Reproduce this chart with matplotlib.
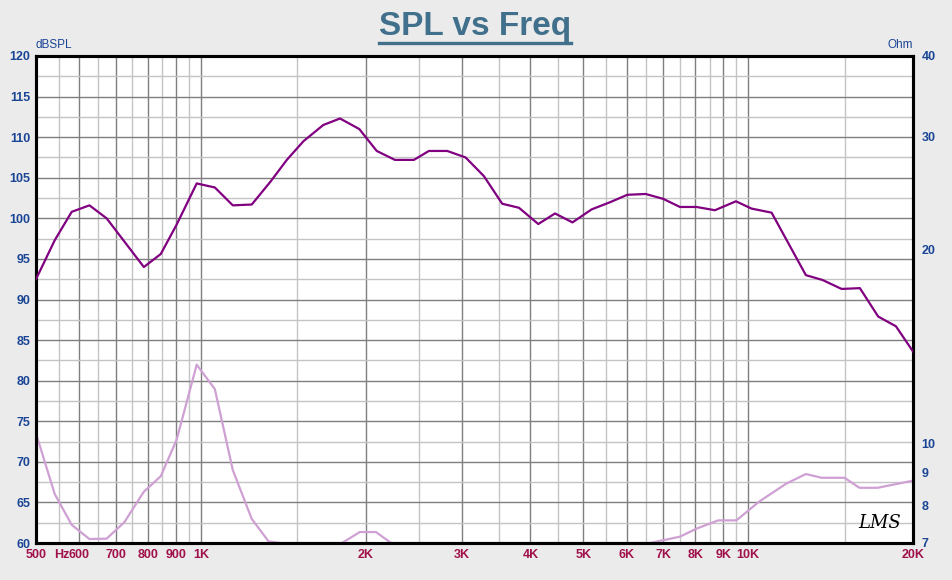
import matplotlib
matplotlib.use("Agg")
import matplotlib.pyplot as plt
from matplotlib.ticker import FixedLocator, NullFormatter, FixedFormatter
from matplotlib.lines import Line2D

# ---- data ----
spl_freq = [500, 541, 581, 626, 673, 787, 845, 903, 983, 1061, 1144, 1239, 1340, 1436,
            1540, 1674, 1796, 1948, 2096, 2263, 2451, 2610, 2820, 3046, 3290, 3553,
            3813, 4135, 4437, 4775, 5175, 5600, 6012, 6496, 6994, 7504, 8048, 8694,
            9497, 10141, 11034, 11671, 12745, 13676, 14812, 15996, 17276, 18614, 20000]
spl_db = [92.5, 97.3, 100.8, 101.6, 100.0, 94.0, 95.6, 99.2, 104.3, 103.8, 101.6, 101.7,
          104.5, 107.2, 109.5, 111.5, 112.3, 111.0, 108.3, 107.2, 107.2, 108.3, 108.3,
          107.5, 105.2, 101.8, 101.3, 99.3, 100.6, 99.5, 101.1, 102.0, 102.9, 103.0,
          102.4, 101.4, 101.4, 101.0, 102.1, 101.2, 100.7, 97.7, 93.0, 92.4, 91.3, 91.4,
          87.9, 86.7, 83.6]

imp_freq = [500, 541, 581, 626, 673, 725, 787, 845, 903, 983, 1061, 1144, 1239, 1330,
            1400, 1811, 1952, 2089, 2227, 6609, 7504, 8048, 8814, 9515, 10475, 11743,
            12745, 13622, 15000, 15960, 17245, 20000]
imp_ohm = [10.36, 8.34, 7.47, 7.10, 7.11, 7.54, 8.41, 8.89, 10.12, 13.25, 12.14, 9.09,
           7.63, 7.04, 7.0, 7.0, 7.28, 7.28, 7.0, 7.0, 7.16, 7.37, 7.59, 7.59, 8.12,
           8.66, 8.96, 8.84, 8.84, 8.53, 8.53, 8.75]

x_major = [500, 600, 700, 800, 900, 1000, 2000, 3000, 4000, 5000, 6000, 7000, 8000,
           9000, 10000, 20000]
x_labels = ["500", "600", "700", "800", "900", "1K", "2K", "3K", "4K", "5K", "6K", "7K",
            "8K", "9K", "10K", "20K"]
x_minor = [550, 650, 750, 850, 950, 1500, 2500, 3500, 4500, 5500, 6500, 7500, 8500,
           9500, 15000]
y_left_major = [60, 65, 70, 75, 80, 85, 90, 95, 100, 105, 110, 115, 120]
y_left_minor = [62.5, 67.5, 72.5, 77.5, 82.5, 87.5, 92.5, 97.5, 102.5, 107.5, 112.5, 117.5]
y_right_ticks = [7, 8, 9, 10, 20, 30, 40]

plt.rcParams['font.family'] = ['Liberation Sans', 'DejaVu Sans']

BG = '#ebebeb'
TICK_BLUE = '#1a4595'
TICK_RED = '#a0104a'
fig = plt.figure(figsize=(9.52, 5.80), dpi=100, facecolor=BG)
W, H = 952, 580
L, R, T, B = 36, 913, 56, 543
ax = fig.add_axes([L / W, (H - B) / H, (R - L) / W, (B - T) / H])
ax.set_facecolor('white')
ax.set_xscale('log')
ax.set_xlim(500, 20000)
ax.set_ylim(60, 120)

ax.xaxis.set_major_locator(FixedLocator(x_major))
ax.xaxis.set_major_formatter(FixedFormatter(x_labels))
ax.xaxis.set_minor_locator(FixedLocator(x_minor))
ax.xaxis.set_minor_formatter(NullFormatter())
ax.yaxis.set_major_locator(FixedLocator(y_left_major))
ax.yaxis.set_minor_locator(FixedLocator(y_left_minor))
ax.yaxis.set_minor_formatter(NullFormatter())

ax.grid(which='major', color='#7f7f7f', linewidth=1.0)
ax.grid(which='minor', color='#c4c4c4', linewidth=1.0)
ax.set_axisbelow(True)
ax.tick_params(which='both', length=0)
ax.tick_params(axis='x', pad=4, labelsize=9, labelcolor=TICK_RED)
ax.tick_params(axis='y', pad=4, labelsize=9, labelcolor=TICK_BLUE)
for lab in ax.get_xticklabels() + ax.get_yticklabels():
    lab.set_fontweight('bold')

ax2 = ax.twinx()
ax2.set_yscale('log')
ax2.set_ylim(7, 40)
ax2.yaxis.set_major_locator(FixedLocator(y_right_ticks))
ax2.yaxis.set_major_formatter(FixedFormatter([str(v) for v in y_right_ticks]))
ax2.yaxis.set_minor_locator(FixedLocator([]))
ax2.tick_params(which='both', length=0, pad=6, labelsize=9, labelcolor=TICK_BLUE)
for lab in ax2.get_yticklabels():
    lab.set_fontweight('bold')

# impedance (right axis) under the SPL curve
ax2.plot(imp_freq, imp_ohm, color='#cfa0d3', linewidth=1.6, zorder=2)
# SPL curve, in left-axis data coordinates, drawn on top
ax2.plot(spl_freq, spl_db, color='#800080', linewidth=1.6, zorder=3,
         transform=ax.transData)

for a in (ax, ax2):
    for s in a.spines.values():
        s.set_linewidth(2.2)
        s.set_color('black')

# axis unit labels
fig.text(L / W, 1 - 45 / H, 'dBSPL', color=TICK_BLUE, fontsize=8.5, ha='left', va='center')
fig.text(R / W, 1 - 45 / H, 'Ohm', color=TICK_BLUE, fontsize=8.5, ha='right', va='center')
# "Hz" sits on the same line as the x tick labels
fig.canvas.draw()
xl0 = ax.get_xticklabels()[0]
ty = xl0.get_position()[1]
fig.text(62 / W, 0, 'Hz', color=TICK_RED, fontsize=9, fontweight='bold',
         ha='center', va='top',
         transform=matplotlib.transforms.blended_transform_factory(fig.transFigure,
                                                                   xl0.get_transform()),
         ).set_y(ty)

# title with underline
title = fig.text(475 / W, 1 - 27 / H, 'SPL vs Freq', color='#41708c', fontsize=24,
                 fontweight='bold', ha='center', va='center')
fig.canvas.draw()
bb = title.get_window_extent().transformed(fig.transFigure.inverted())
uy = 1 - 42.5 / H
fig.add_artist(Line2D([bb.x0, bb.x1], [uy, uy], transform=fig.transFigure,
                      color='#41708c', linewidth=2.4))

# LMS logo
fig.text(880 / W, 1 - 523 / H, 'LMS', color='black', fontsize=13, fontstyle='italic',
         family='DejaVu Serif', ha='center', va='center')

fig.savefig('out.png', dpi=100, facecolor=BG)
